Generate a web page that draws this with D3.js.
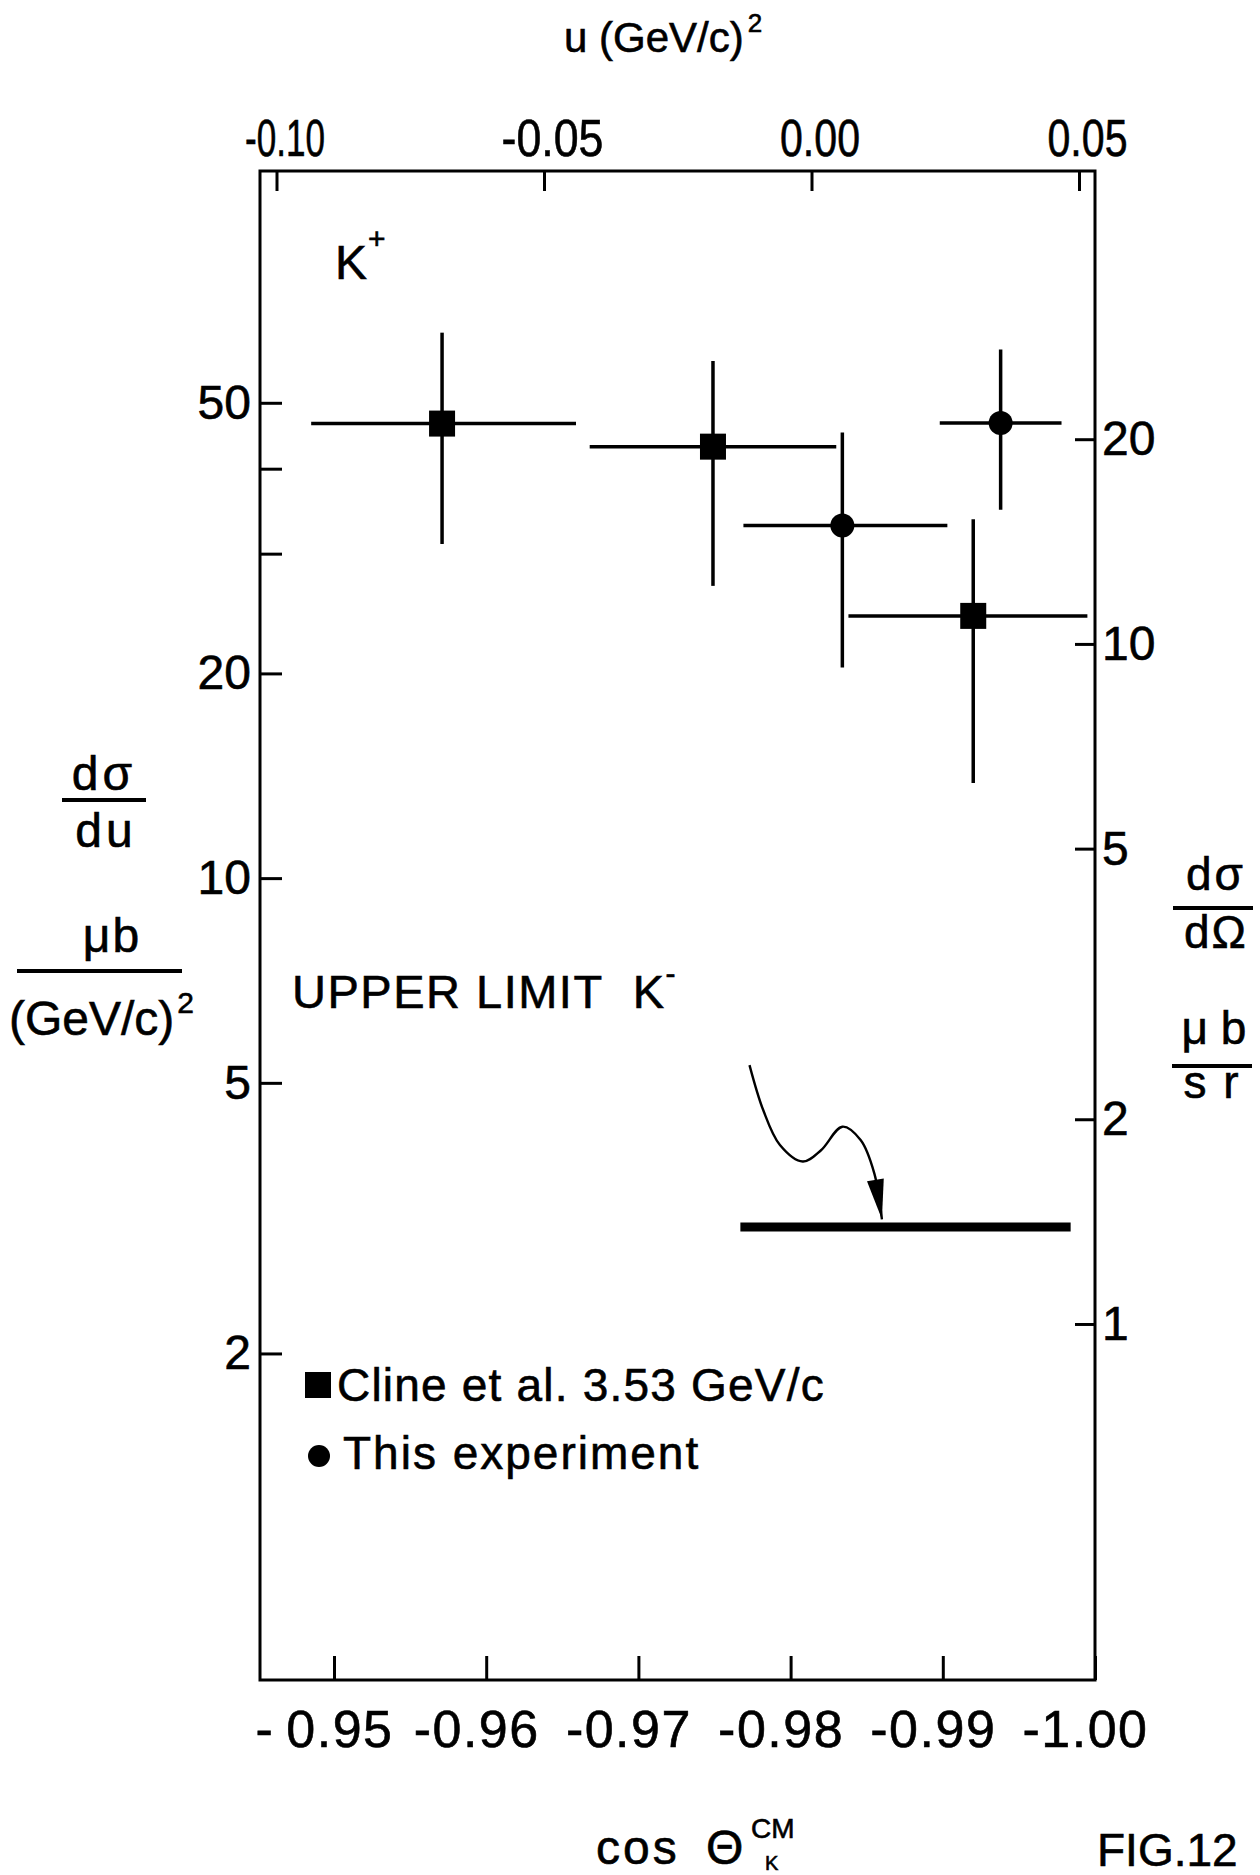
<!DOCTYPE html>
<html lang="en">
<head>
<meta charset="UTF-8" />
<title>Backward K production, FIG.12</title>
<style>
  html, body {
    margin: 0;
    padding: 0;
    background: #fff;
  }
  svg {
    display: block;
    font-family: "Liberation Sans", Arial, sans-serif;
  }
  .axis text {
    font-family: "Liberation Sans", Arial, sans-serif;
    font-size: 48px;
    fill: #000;
    stroke: #000;
    stroke-width: 0.6px;
  }
  .axis line {
    stroke: #000;
    stroke-width: 3px;
  }
  .axis path {
    display: none;
  }
  .frame {
    fill: none;
    stroke: #000;
    stroke-width: 3px;
  }
  .err {
    stroke: #000;
    stroke-width: 3.5px;
  }
  .lbl {
    fill: #000;
    font-size: 46px;
  }
  .lbl text {
    stroke: #000;
    stroke-width: 0.6px;
  }
</style>
</head>
<body>
<svg width="1260" height="1875"></svg>

<script src="https://d3js.org/d3.v7.min.js"></script>
<script>
// values: x = cos(theta_K CM), y = dsigma/du in mub/(GeV/c)^2

// Cline et al. 3.53 GeV/c (squares)
const clineCos   = [-0.9571, -0.9749, -0.9920];
const clineCosLo = [-0.9485, -0.9668, -0.9838];
const clineCosHi = [-0.9659, -0.9830, -0.9995];
const clineVal   = [46.6, 43.1, 24.3];
const clineLo    = [31.0, 26.9, 13.8];
const clineHi    = [63.4, 57.6, 33.7];

// this experiment (circles)
const thisCos   = [-0.9834, -0.9938];
const thisCosLo = [-0.9769, -0.9898];
const thisCosHi = [-0.9903, -0.9978];
const thisVal   = [33.0, 46.7];
const thisLo    = [20.4, 34.8];
const thisHi    = [45.2, 59.9];

// K- upper limit
const upperLimitCos = [-0.9767, -0.9984];
const upperLimitVal = 3.07;

// wavy arrow pointing at the upper limit (cos, dsigma/du)
const arrowCos = [-0.9773, -0.9782, -0.9793, -0.9808, -0.9820, -0.9834, -0.9846, -0.9855, -0.9860];
const arrowVal = [5.31, 4.56, 4.05, 3.83, 3.98, 4.31, 4.12, 3.68, 3.15];

// axes
const cosTicks = [-0.95, -0.96, -0.97, -0.98, -0.99, -1.00];
const cosTickLabels = ["-\u20090.95", "-0.96", "-0.97", "-0.98", "-0.99", "-1.00"];
const uTicks = [-0.10, -0.05, 0.00, 0.05];
const uTickLabels = ["-0.10", "-0.05", "0.00", "0.05"];
const leftTicks = [50, 40, 30, 20, 10, 5, 2];
const leftLabelled = [50, 20, 10, 5, 2];
const rightTicks = [20, 10, 5, 2, 1];
const duToDomega = 2.21;   // dsigma/du = 2.21 * dsigma/dOmega (from the two scales)

const svg = d3.select("svg");
const frame = { left: 260, right: 1095, top: 171, bottom: 1680 };

const x = d3.scaleLinear().domain([-0.95, -1.00]).range([334, 1095]);
const u = d3.scaleLinear().domain([-0.10, 0.05]).range([276.5, 1079]);
const yLeft = d3.scaleLog().domain([0.662, 109.6]).range([frame.bottom, frame.top]);
const yRight = d3.scaleLog()
  .domain(yLeft.domain().map(v => v / duToDomega))
  .range(yLeft.range());

svg.append("rect").attr("width", 1260).attr("height", 1875).attr("fill", "#fff");

svg.append("rect")
  .attr("class", "frame")
  .attr("x", frame.left)
  .attr("y", frame.top)
  .attr("width", frame.right - frame.left)
  .attr("height", frame.bottom - frame.top);

// bottom axis (cos theta)
svg.append("g")
  .attr("class", "axis")
  .attr("transform", `translate(0,${frame.bottom})`)
  .call(d3.axisBottom(x).tickValues(cosTicks)
    .tickFormat((d, i) => cosTickLabels[i])
    .tickSize(-24).tickSizeOuter(0).tickPadding(30))
  .selectAll("text").attr("dx", -10)
  .style("font-size", "52px").attr("letter-spacing", 1.5);

// top axis (u)
svg.append("g")
  .attr("class", "axis")
  .attr("transform", `translate(0,${frame.top})`)
  .call(d3.axisTop(u).tickValues(uTicks)
    .tickFormat((d, i) => uTickLabels[i])
    .tickSize(-20).tickSizeOuter(0).tickPadding(15))
  .selectAll("text").attr("dx", 8)
  .style("font-size", "52px").attr("textLength", (d, i) => i === 1 ? 102 : 80)
  .attr("lengthAdjust", "spacingAndGlyphs");

// left axis
svg.append("g")
  .attr("class", "axis")
  .attr("transform", `translate(${frame.left},0)`)
  .call(d3.axisLeft(yLeft).tickValues(leftTicks)
    .tickFormat(d => leftLabelled.includes(d) ? d : "")
    .tickSize(-22).tickSizeOuter(0).tickPadding(9));

// right axis
svg.append("g")
  .attr("class", "axis")
  .attr("transform", `translate(${frame.right},0)`)
  .call(d3.axisRight(yRight).tickValues(rightTicks)
    .tickFormat(d => d)
    .tickSize(-20).tickSizeOuter(0).tickPadding(7));

// points
const cline = clineCos.map((c, i) => ({
  c, lo: clineCosLo[i], hi: clineCosHi[i], v: clineVal[i], vlo: clineLo[i], vhi: clineHi[i]
}));
const ours = thisCos.map((c, i) => ({
  c, lo: thisCosLo[i], hi: thisCosHi[i], v: thisVal[i], vlo: thisLo[i], vhi: thisHi[i]
}));
const all = cline.concat(ours);

const bars = svg.append("g");
bars.selectAll(".hbar")
  .data(all)
  .join("line")
  .attr("class", "err")
  .attr("x1", d => x(d.lo)).attr("x2", d => x(d.hi))
  .attr("y1", d => yLeft(d.v)).attr("y2", d => yLeft(d.v));
bars.selectAll(".vbar")
  .data(all)
  .join("line")
  .attr("class", "err")
  .attr("x1", d => x(d.c)).attr("x2", d => x(d.c))
  .attr("y1", d => yLeft(d.vlo)).attr("y2", d => yLeft(d.vhi));

const sq = 26;
svg.append("g").selectAll("rect")
  .data(cline)
  .join("rect")
  .attr("x", d => x(d.c) - sq / 2)
  .attr("y", d => yLeft(d.v) - sq / 2)
  .attr("width", sq).attr("height", sq)
  .attr("fill", "#000");

svg.append("g").selectAll("circle")
  .data(ours)
  .join("circle")
  .attr("cx", d => x(d.c))
  .attr("cy", d => yLeft(d.v))
  .attr("r", 12)
  .attr("fill", "#000");

// upper limit K-
svg.append("line")
  .attr("x1", x(upperLimitCos[0])).attr("x2", x(upperLimitCos[1]))
  .attr("y1", yLeft(upperLimitVal)).attr("y2", yLeft(upperLimitVal))
  .attr("stroke", "#000").attr("stroke-width", 9);

// wavy arrow
const arrowPts = arrowCos.map((c, i) => [x(c), yLeft(arrowVal[i])]);
svg.append("path")
  .attr("d", d3.line().curve(d3.curveCatmullRom)(arrowPts))
  .attr("fill", "none")
  .attr("stroke", "#000")
  .attr("stroke-width", 2.4);
{
  const tip = arrowPts[arrowPts.length - 1];
  const prev = arrowPts[arrowPts.length - 2];
  const len = Math.hypot(tip[0] - prev[0], tip[1] - prev[1]);
  const dx = (tip[0] - prev[0]) / len, dy = (tip[1] - prev[1]) / len;
  const bx = tip[0] - 40 * dx, by = tip[1] - 40 * dy;
  const w = 8.5;
  svg.append("path")
    .attr("d", `M${tip[0]},${tip[1]}L${bx - dy * w},${by + dx * w}L${bx + dy * w},${by - dx * w}Z`)
    .attr("fill", "#000");
}

// texts
const txt = svg.append("g").attr("class", "lbl");

const title = txt.append("text").attr("x", 564).attr("y", 52).attr("font-size", 42);
title.append("tspan").text("u (GeV/c)");
title.append("tspan").attr("font-size", 26).attr("dx", 4).attr("dy", -20).text("2");

const kp = txt.append("text").attr("x", 335).attr("y", 279).attr("font-size", 48);
kp.append("tspan").text("K");
kp.append("tspan").attr("font-size", 30).attr("dx", 1).attr("dy", -30).text("+");

const ul = txt.append("text").attr("x", 292).attr("y", 1008).attr("font-size", 47)
  .attr("letter-spacing", 1.5);
ul.append("tspan").text("UPPER LIMIT\u00a0\u00a0K");
ul.append("tspan").attr("font-size", 30).attr("dy", -24).text("-");

// left axis title
txt.append("text").attr("x", 104).attr("y", 790).attr("font-size", 48)
  .attr("letter-spacing", 4).attr("text-anchor", "middle").text("dσ");
txt.append("line").attr("x1", 62).attr("x2", 146).attr("y1", 800).attr("y2", 800)
  .attr("stroke", "#000").attr("stroke-width", 4);
txt.append("text").attr("x", 106).attr("y", 847).attr("font-size", 48)
  .attr("letter-spacing", 4).attr("text-anchor", "middle").text("du");
txt.append("text").attr("x", 112).attr("y", 952).attr("font-size", 48)
  .attr("letter-spacing", 2).attr("text-anchor", "middle").text("μb");
txt.append("line").attr("x1", 17).attr("x2", 182).attr("y1", 971).attr("y2", 971)
  .attr("stroke", "#000").attr("stroke-width", 4);
const gevc = txt.append("text").attr("x", 9).attr("y", 1035).attr("font-size", 48);
gevc.append("tspan").text("(GeV/c)");
gevc.append("tspan").attr("font-size", 30).attr("dx", 3).attr("dy", -22).text("2");

// right axis title
txt.append("text").attr("x", 1216).attr("y", 890).attr("font-size", 46)
  .attr("letter-spacing", 3).attr("text-anchor", "middle").text("dσ");
txt.append("line").attr("x1", 1173).attr("x2", 1253).attr("y1", 908).attr("y2", 908)
  .attr("stroke", "#000").attr("stroke-width", 4);
txt.append("text").attr("x", 1216).attr("y", 948).attr("font-size", 46)
  .attr("letter-spacing", 2).attr("text-anchor", "middle").text("dΩ");
txt.append("text").attr("x", 1214).attr("y", 1044).attr("font-size", 46)
  .attr("text-anchor", "middle").text("μ b");
txt.append("line").attr("x1", 1172).attr("x2", 1252).attr("y1", 1066).attr("y2", 1066)
  .attr("stroke", "#000").attr("stroke-width", 4);
txt.append("text").attr("x", 1212).attr("y", 1098).attr("font-size", 46)
  .attr("letter-spacing", 2).attr("text-anchor", "middle").text("s r");

// legend
svg.append("rect").attr("x", 305).attr("y", 1372).attr("width", 26).attr("height", 26).attr("fill", "#000");
txt.append("text").attr("x", 337).attr("y", 1401).attr("font-size", 46)
  .attr("letter-spacing", 1.2).text("Cline et al. 3.53 GeV/c");
svg.append("circle").attr("cx", 319).attr("cy", 1456).attr("r", 11).attr("fill", "#000");
txt.append("text").attr("x", 343).attr("y", 1469).attr("font-size", 46)
  .attr("letter-spacing", 2).text("This experiment");

// x axis title and figure tag
txt.append("text").attr("x", 596).attr("y", 1864).attr("font-size", 48)
  .attr("letter-spacing", 3).text("cos");
txt.append("text").attr("x", 706).attr("y", 1864).attr("font-size", 48).text("Θ");
txt.append("text").attr("x", 751).attr("y", 1838).attr("font-size", 28).text("CM");
txt.append("text").attr("x", 765).attr("y", 1870).attr("font-size", 20).text("K");
txt.append("text").attr("x", 1097).attr("y", 1866).attr("font-size", 46).text("FIG.12");
</script>
</body>
</html>
